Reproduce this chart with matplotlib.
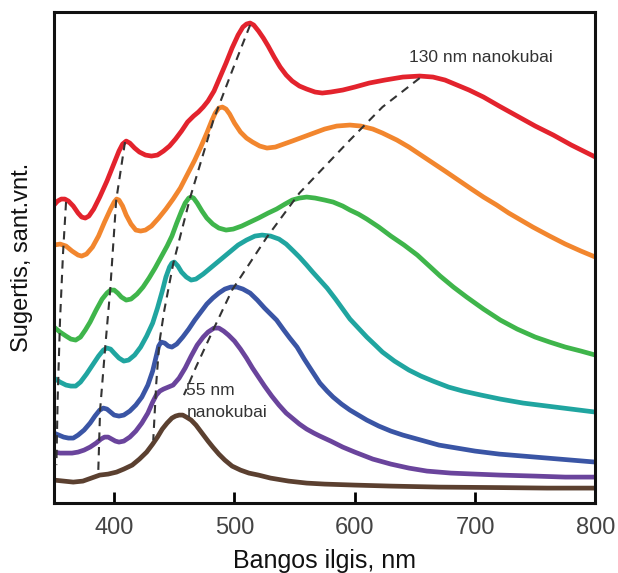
import matplotlib
matplotlib.use("Agg")
import matplotlib.pyplot as plt

plt.rcParams['font.family'] = ['Liberation Sans', 'DejaVu Sans']

# Wavelength (nm) and absorbance (arbitrary units)
red_x = [350, 353, 356, 359, 362, 366, 370, 373, 376, 379, 383, 388, 394, 400, 404, 407, 410, 413, 417, 421, 426, 431, 436, 441, 446, 451, 456, 461, 466, 470, 474, 478, 483, 488, 493, 498, 503, 507, 510, 513, 516, 520, 524, 528, 533, 538, 543, 548, 554, 560, 567, 573, 580, 590, 600, 612, 625, 640, 654, 665, 675, 685, 695, 707, 720, 735, 750, 765, 780, 790, 800]
red_y = [298, 302, 304, 304, 302, 297, 290, 286, 285, 287, 294, 306, 322, 340, 352, 359, 362, 360, 355, 351, 348, 347, 348, 352, 357, 364, 372, 381, 387, 391, 396, 402, 412, 426, 440, 455, 468, 476, 479, 480, 478, 472, 465, 457, 446, 436, 428, 422, 417, 414, 411, 410, 411, 413, 416, 420, 423, 426, 427, 426, 423, 418, 413, 406, 397, 387, 377, 368, 358, 352, 346]

orange_x = [350, 355, 360, 365, 370, 373, 377, 382, 387, 392, 397, 400, 402, 404, 407, 410, 414, 418, 422, 426, 431, 437, 443, 449, 455, 461, 467, 472, 477, 481, 484, 487, 490, 493, 496, 500, 505, 510, 515, 521, 527, 534, 541, 548, 557, 566, 575, 585, 596, 605, 615, 623, 635, 645, 655, 665, 675, 686, 697, 707, 718, 728, 738, 748, 762, 775, 788, 800]
orange_y = [258, 259, 257, 252, 248, 247, 249, 256, 267, 281, 294, 301, 304, 303, 297, 288, 279, 273, 272, 273, 277, 285, 294, 304, 315, 329, 343, 356, 370, 382, 390, 395, 396, 394, 389, 380, 371, 365, 361, 357, 355, 356, 359, 362, 366, 370, 374, 377, 378, 377, 374, 370, 363, 356, 348, 340, 332, 323, 314, 306, 298, 290, 283, 276, 267, 259, 252, 246]

green_x = [350, 355, 360, 364, 368, 372, 376, 380, 385, 390, 394, 397, 400, 403, 406, 410, 414, 419, 424, 429, 434, 439, 444, 448, 452, 456, 459, 462, 464, 466, 469, 473, 477, 482, 487, 493, 499, 506, 513, 520, 528, 535, 542, 548, 554, 560, 567, 575, 582, 590, 596, 603, 610, 620, 630, 641, 652, 662, 671, 682, 693, 707, 721, 735, 750, 762, 775, 788, 800]
green_y = [176, 171, 167, 164, 163, 166, 173, 181, 193, 204, 210, 213, 213, 210, 206, 203, 204, 209, 216, 225, 235, 246, 257, 267, 280, 292, 300, 305, 306, 305, 300, 292, 285, 279, 275, 273, 274, 277, 281, 285, 290, 294, 299, 303, 305, 306, 305, 303, 301, 297, 293, 289, 284, 276, 267, 258, 248, 237, 227, 216, 206, 194, 183, 174, 166, 161, 156, 152, 148]

teal_x = [350, 355, 360, 364, 368, 372, 377, 382, 387, 391, 394, 397, 400, 404, 408, 412, 417, 422, 427, 432, 436, 440, 443, 446, 448, 450, 453, 456, 460, 464, 468, 474, 480, 487, 495, 503, 510, 517, 523, 530, 537, 543, 549, 554, 560, 565, 571, 577, 584, 590, 596, 603, 610, 617, 623, 633, 645, 655, 665, 678, 690, 705, 721, 740, 760, 780, 800]
teal_y = [125, 121, 118, 117, 117, 121, 129, 138, 147, 153, 155, 154, 150, 145, 142, 143, 148, 156, 167, 180, 195, 212, 226, 236, 240, 241, 237, 231, 226, 223, 224, 229, 235, 242, 250, 258, 263, 267, 268, 267, 264, 259, 252, 246, 238, 231, 223, 215, 204, 194, 184, 175, 166, 158, 151, 142, 133, 127, 122, 116, 112, 108, 104, 100, 97, 94, 91]

blue_x = [350, 354, 358, 362, 366, 370, 375, 380, 384, 388, 391, 394, 397, 400, 404, 408, 413, 418, 423, 428, 432, 435, 437, 439, 442, 445, 448, 452, 457, 462, 467, 472, 477, 482, 487, 492, 497, 502, 507, 513, 519, 525, 530, 535, 541, 546, 552, 558, 565, 571, 577, 582, 589, 596, 603, 610, 620, 630, 640, 655, 670, 685, 700, 720, 740, 760, 780, 800]
blue_y = [70, 68, 66, 65, 65, 68, 73, 80, 87, 93, 95, 94, 91, 88, 87, 88, 92, 98, 106, 118, 132, 147, 157, 161, 160, 157, 156, 159, 166, 174, 183, 191, 199, 205, 210, 214, 216, 216, 214, 210, 203, 195, 189, 183, 173, 165, 156, 144, 131, 120, 112, 106, 99, 93, 88, 83, 77, 72, 68, 63, 58, 55, 52, 49, 47, 45, 43, 41]

purple_x = [350, 355, 360, 365, 370, 375, 380, 385, 389, 392, 395, 398, 401, 404, 408, 413, 418, 423, 428, 432, 435, 438, 441, 445, 449, 454, 459, 464, 469, 474, 478, 483, 487, 491, 495, 500, 505, 510, 515, 520, 525, 531, 537, 543, 549, 554, 560, 566, 571, 580, 590, 600, 615, 630, 645, 660, 680, 700, 721, 750, 775, 800]
purple_y = [51, 50, 50, 50, 51, 53, 56, 60, 64, 66, 66, 64, 62, 61, 62, 66, 72, 80, 90, 101, 108, 112, 114, 116, 118, 125, 135, 147, 158, 166, 171, 175, 175, 172, 168, 162, 154, 145, 135, 126, 117, 107, 98, 90, 84, 79, 74, 70, 67, 62, 56, 51, 44, 39, 35, 32, 30, 29, 28, 27, 26, 26]

brown_x = [350, 358, 366, 374, 381, 388, 395, 402, 408, 415, 421, 427, 432, 436, 440, 444, 448, 451, 454, 457, 460, 464, 468, 473, 478, 482, 487, 492, 498, 505, 512, 520, 530, 545, 560, 575, 600, 630, 670, 720, 760, 800]
brown_y = [23, 22, 21, 22, 25, 28, 29, 31, 34, 38, 44, 51, 59, 66, 74, 80, 85, 87, 88, 88, 86, 83, 78, 70, 62, 56, 49, 43, 37, 33, 30, 28, 25, 22, 20, 19, 18, 17, 16, 15.5, 15, 15]

# Dashed guide lines through peak positions
guide1_x = [360, 357.5, 355, 353, 352]
guide1_y = [301, 250, 183, 103, 38]
guide2_x = [409, 401.7, 396.7, 392.5, 388.3, 386.7]
guide2_y = [361, 303, 213, 155, 93, 28]
guide3_x = [513, 498, 482.5, 463.3, 449.2, 441.7, 437.5, 435, 432.5]
guide3_y = [478, 432, 383, 306, 240, 193, 160, 120, 63]
guide4_x = [654, 623, 596, 554, 527, 498, 483, 468, 458]
guide4_y = [425, 396, 363, 310, 266, 213, 175, 136, 108]

xticks = [400, 500, 600, 700, 800]

series = [
    (brown_x, brown_y, '#5b4030'),
    (purple_x, purple_y, '#6a449c'),
    (blue_x, blue_y, '#3a55a5'),
    (teal_x, teal_y, '#20a5a0'),
    (green_x, green_y, '#3fb54b'),
    (orange_x, orange_y, '#f2862e'),
    (red_x, red_y, '#e3232d'),
]

fig = plt.figure(figsize=(6.18, 5.73), dpi=100)
ax = fig.add_axes([0.0874, 0.122, 0.876, 0.857])

for xs, ys, c in series:
    ax.plot(xs, ys, color=c, lw=3.4, solid_capstyle='butt', solid_joinstyle='round', zorder=2)

for gx, gy in [(guide1_x, guide1_y), (guide2_x, guide2_y), (guide3_x, guide3_y), (guide4_x, guide4_y)]:
    ax.plot(gx, gy, color='#333333', lw=1.5, ls=(0, (4, 3)), zorder=3)

ax.text(645, 446, '130 nm nanokubai', fontsize=12.5, color='#333333', va='center', ha='left')
ax.text(460, 113, '55 nm', fontsize=12.5, color='#333333', va='center', ha='left')
ax.text(460, 91, 'nanokubai', fontsize=12.5, color='#333333', va='center', ha='left')

ax.set_xlim(350, 800)
ax.set_ylim(0, 491)
ax.set_xticks(xticks)
ax.set_yticks([])
ax.tick_params(axis='x', direction='in', length=8, width=2, pad=10, labelsize=17, labelcolor='#444444')
for s in ax.spines.values():
    s.set_linewidth(2.2)
    s.set_color('#111111')

ax.set_xlabel('Bangos ilgis, nm', fontsize=18, color='#111111', labelpad=7)
ax.set_ylabel('Sugertis, sant.vnt.', fontsize=17, color='#111111', labelpad=15)

fig.savefig('out.png', dpi=100)
